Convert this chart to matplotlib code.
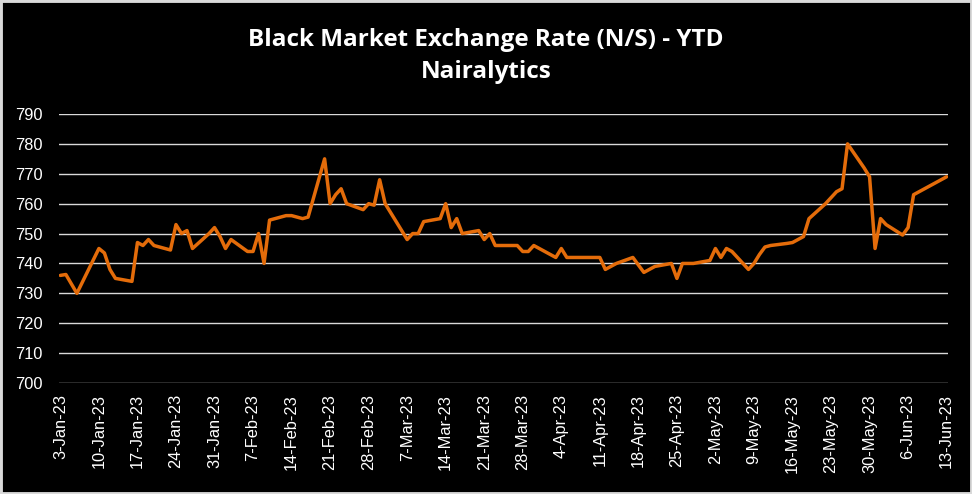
import matplotlib
matplotlib.use("Agg")
import matplotlib.pyplot as plt
import matplotlib.dates as mdates
import pandas as pd
from matplotlib.patches import Rectangle

dates = [
    "2023-01-03", "2023-01-04", "2023-01-06", "2023-01-10", "2023-01-11", "2023-01-12",
    "2023-01-13", "2023-01-16", "2023-01-17", "2023-01-18", "2023-01-19", "2023-01-20",
    "2023-01-23", "2023-01-24", "2023-01-25", "2023-01-26", "2023-01-27", "2023-01-30",
    "2023-01-31", "2023-02-01", "2023-02-02", "2023-02-03", "2023-02-06", "2023-02-07",
    "2023-02-08", "2023-02-09", "2023-02-10", "2023-02-13", "2023-02-14", "2023-02-15",
    "2023-02-16", "2023-02-17", "2023-02-20", "2023-02-21", "2023-02-22", "2023-02-23",
    "2023-02-24", "2023-02-27", "2023-02-28", "2023-03-01", "2023-03-02", "2023-03-03",
    "2023-03-06", "2023-03-07", "2023-03-08", "2023-03-09", "2023-03-10", "2023-03-13",
    "2023-03-14", "2023-03-15", "2023-03-16", "2023-03-17", "2023-03-20", "2023-03-21",
    "2023-03-22", "2023-03-23", "2023-03-24", "2023-03-27", "2023-03-28", "2023-03-29",
    "2023-03-30", "2023-03-31", "2023-04-03", "2023-04-04", "2023-04-05", "2023-04-06",
    "2023-04-10", "2023-04-11", "2023-04-12", "2023-04-13", "2023-04-14", "2023-04-17",
    "2023-04-19", "2023-04-20", "2023-04-21", "2023-04-24", "2023-04-25", "2023-04-26",
    "2023-04-27", "2023-04-28", "2023-05-01", "2023-05-02", "2023-05-03", "2023-05-04",
    "2023-05-05", "2023-05-08", "2023-05-09", "2023-05-10", "2023-05-11", "2023-05-12",
    "2023-05-15", "2023-05-16", "2023-05-17", "2023-05-18", "2023-05-19", "2023-05-22",
    "2023-05-23", "2023-05-24", "2023-05-25", "2023-05-26", "2023-05-29", "2023-05-30",
    "2023-05-31", "2023-06-01", "2023-06-02", "2023-06-05", "2023-06-06", "2023-06-07",
    "2023-06-08", "2023-06-09", "2023-06-12", "2023-06-13",
]
rates = [
    736, 736.3, 730, 745, 743.5, 738,
    735, 734, 747, 746, 748, 746,
    744.5, 753, 750, 751, 745, 750,
    752, 749, 745, 748, 744, 744,
    750, 740, 754.5, 756, 756, 755.5,
    755, 755.5, 775, 760, 763, 765,
    760, 758, 760, 759.5, 768, 760,
    751, 748, 750, 750, 754, 755,
    760, 752, 755, 750, 751, 748,
    750, 746, 746, 746, 744, 744,
    746, 745, 742, 745, 742, 742,
    742, 742, 738, 739, 740, 742,
    737, 738, 739, 740, 735, 740,
    740, 740, 741, 745, 742, 745,
    744, 738, 740, 743, 745.5, 746,
    746.7, 747, 748, 749, 755, 760,
    762, 764, 765, 780, 772, 769,
    745, 755, 753, 749.5, 752, 763,
    764, 765, 768, 769,
]

tick_dates = pd.date_range("2023-01-03", "2023-06-13", freq="7D")
y_ticks = list(range(700, 791, 10))

title = "Black Market Exchange Rate (N/S) - YTD\nNairalytics"

x = pd.to_datetime(dates)

fig = plt.figure(figsize=(9.72, 4.94), dpi=100, facecolor="black")
fig.patches.append(Rectangle((0, 0), 1, 1, transform=fig.transFigure,
                             fill=False, edgecolor="#d9d9d9", linewidth=3.5))
ax = fig.add_axes([59 / 972, 1 - 383 / 494, (948 - 59) / 972, (383 - 114) / 494])
ax.set_facecolor("black")

ax.plot(x, rates, color="#E46C0A", linewidth=2.5, solid_joinstyle="round",
        solid_capstyle="round", zorder=3)

ax.set_ylim(700, 790)
ax.set_yticks(y_ticks)
ax.set_xlim(mdates.date2num(pd.Timestamp("2023-01-03")) - 0.25,
            mdates.date2num(pd.Timestamp("2023-06-13")) + 0.25)
ax.set_xticks(tick_dates)
ax.set_xticklabels([f"{d.day}-{d.strftime('%b')}-23" for d in tick_dates],
                   rotation=90, fontsize=11.8, color="white", family="Liberation Sans")
for lbl in ax.get_yticklabels():
    lbl.set_family("Liberation Sans")
ax.tick_params(axis="y", labelsize=11.8, labelcolor="white", length=0, pad=12)
ax.tick_params(axis="x", length=0, pad=8)
ax.grid(axis="y", color="#d9d9d9", linewidth=1.0, zorder=1)
for s in ax.spines.values():
    s.set_visible(False)

fig.text(0.5, 1 - 56 / 494, title, ha="center", va="center", color="white",
         fontsize=17.5, fontweight="bold", family="Open Sans", linespacing=1.45)

fig.savefig("out.png", dpi=100, facecolor="black")
